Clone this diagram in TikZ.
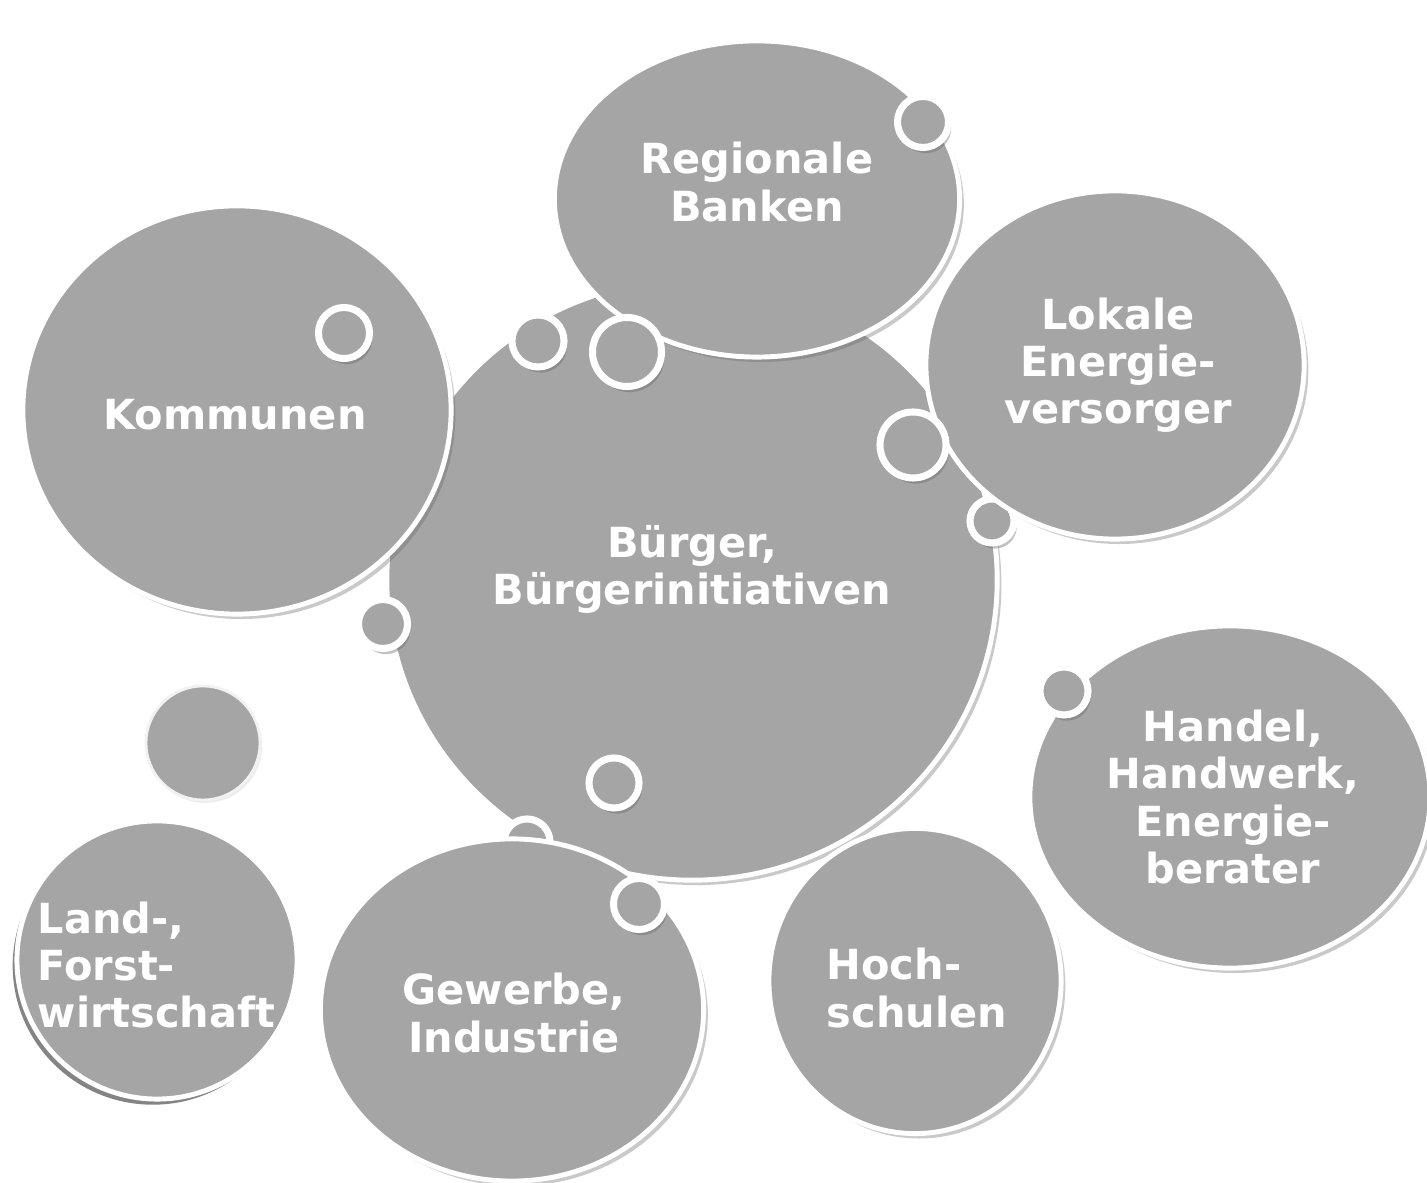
\documentclass[tikz,border=0pt]{standalone}
\usepackage{fontspec}
\setmainfont{DejaVu Sans}
\usetikzlibrary{shapes.geometric,shadows}
\definecolor{bub}{RGB}{165,165,165}
\tikzset{
  big/.style={ellipse, fill=bub, draw=white, line width=1.4pt, inner sep=0pt,
    drop shadow={shadow xshift=1.2pt, shadow yshift=-1.4pt, opacity=0.35, fill=black!60}},
  ring/.style={circle, fill=bub, draw=white, line width=2pt, inner sep=0pt,
    drop shadow={shadow xshift=0.8pt, shadow yshift=-1.6pt, opacity=0.4, fill=black!60}},
  lbl/.style={text=white, font=\bfseries\fontsize{11.8}{13.4}\selectfont, inner sep=0pt},
}
\begin{document}
\begin{tikzpicture}[x=0.01cm,y=-0.01cm]
\useasboundingbox[fill=white] (0,0) rectangle (1427,1183);
% central
\node[big, minimum width=6.1cm, minimum height=6.0cm] (bue) at (692,580) {};
% rings behind
\node[ring, minimum size=0.44cm] (r6) at (992,521) {};
\node[ring, minimum size=0.46cm] (r9) at (527,842) {};
% surrounding
\node[big, minimum width=4.05cm, minimum height=3.16cm] (ban) at (757,199) {};
\node[big, minimum width=4.28cm, minimum height=4.08cm] (kom) at (237,410) {};
\node[big, minimum width=3.78cm, minimum height=3.48cm] (lok) at (1115,365) {};
\node[big, minimum width=4.0cm, minimum height=3.42cm] (han) at (1230,797) {};
\node[big, minimum width=2.92cm, minimum height=3.05cm] (hoc) at (915,981) {};
\node[big, minimum width=3.83cm, minimum height=3.42cm] (gew) at (512,1010) {};
\node[ellipse, fill=bub, draw=white, line width=1.4pt, inner sep=0pt,
  minimum width=2.8cm, minimum height=2.78cm,
  drop shadow={shadow xshift=-1.2pt, shadow yshift=-1.6pt, opacity=0.6, fill=black!80}] (lan) at (157,960) {};
\node[circle, fill=bub, draw=white!90!gray, line width=0.8pt, inner sep=0pt, minimum size=1.14cm,
  drop shadow={shadow xshift=0.6pt, shadow yshift=-0.8pt, opacity=0.15, fill=black!50}] (dot) at (203,743) {};
% rings
\node[ring, minimum size=0.51cm] (r1) at (344,333) {};
\node[ring, minimum size=0.52cm] (r2) at (538,341) {};
\node[ring, minimum size=0.69cm] (r3) at (627,352) {};
\node[ring, minimum size=0.51cm] (r4) at (923,122) {};
\node[ring, minimum size=0.66cm] (r5) at (913,445) {};
\node[ring, minimum size=0.49cm] (r7) at (383,624) {};
\node[ring, minimum size=0.50cm] (r8) at (614,783) {};
\node[ring, minimum size=0.51cm] (r10) at (639,904) {};
\node[ring, minimum size=0.48cm] (r11) at (1064,691) {};
% labels
\node[lbl, align=center] (tban) at (757,182) {Regionale\\Banken};
\node[lbl, align=center] (tlok) at (1118,365) {Lokale\\Energie-\\versorger};
\node[lbl] (tkom) at (235,415) {Kommunen};
\node[lbl, align=center] (tbue) at (692,569) {Bürger,\\Bürgerinitiativen};
\node[lbl, align=center] (than) at (1233,797) {Handel,\\Handwerk,\\Energie-\\berater};
\node[lbl, align=left, anchor=west] (thoc) at (826,988) {Hoch-\\schulen};
\node[lbl, align=center] (tgew) at (514,1013) {Gewerbe,\\Industrie};
\node[lbl, align=left, anchor=west] (tlan) at (37,965) {Land-,\\Forst-\\wirtschaft};
\end{tikzpicture}
\end{document}
